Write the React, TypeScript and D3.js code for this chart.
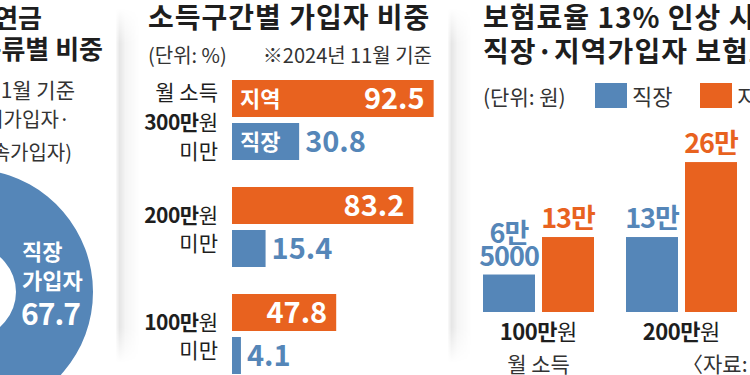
import React, { useEffect, useRef } from "react";
import * as d3 from "d3";

const W = 750;
const H = 375;
const ORANGE = "#e8621f";
const BLUE = "#5586b8";
const INK = "#1e1e1e";
const SUB = "#333";
const FONT = "'Noto Sans CJK KR', 'Noto Sans', sans-serif";

// left: donut (share by subscriber type, %)
const shareLabels = ["직장가입자", "지역·임의·임의계속가입자"];
const shareValues = [67.7, 32.3];

// middle: share by income band (%)
const incomeBands = ["300만원", "200만원", "100만원"];
const regionalShare = [92.5, 83.2, 47.8];
const workplaceShare = [30.8, 15.4, 4.1];

// right: monthly premium after 13% rate (won)
const incomeLevels = ["100만원", "200만원"];
const workplacePremium = [65000, 130000];
const regionalPremium = [130000, 260000];

function formatWon(v) {
  const man = Math.floor(v / 10000);
  const rest = v % 10000;
  return rest > 0 ? [`${man}만`, `${rest}`] : [`${man}만`];
}

// "300만원" -> bold "300만" + normal "원"
function addLabel(g, x, y, str, size, anchor, color = INK) {
  const t = g
    .append("text")
    .attr("x", x)
    .attr("y", y)
    .attr("text-anchor", anchor)
    .attr("font-size", size)
    .attr("fill", color);
  const idx = str.indexOf("만");
  if (idx > 0 && /\d/.test(str[0])) {
    t.append("tspan").attr("font-weight", 700).attr("letter-spacing", -0.5).text(str.slice(0, idx + 1));
    t.append("tspan").attr("font-weight", 400).text(str.slice(idx + 1));
  } else {
    t.attr("font-weight", 400).text(str);
  }
  return t;
}

function title(g, x, y, str, size = 28) {
  return g
    .append("text")
    .attr("x", x)
    .attr("y", y)
    .attr("font-size", size)
    .attr("font-weight", 700)
    .attr("letter-spacing", 1)
    .attr("fill", INK)
    .text(str);
}

export default function App() {
  const svgRef = useRef(null);

  useEffect(() => {
    const svg = d3.select(svgRef.current);
    svg.selectAll("*").remove();
    svg.attr("font-family", FONT);

    svg.append("rect").attr("width", W).attr("height", H).attr("fill", "#fff");

    // card shadows
    const defs = svg.append("defs");
    const sg = defs
      .append("linearGradient")
      .attr("id", "shadow")
      .attr("x1", 0)
      .attr("x2", 1)
      .attr("y1", 0)
      .attr("y2", 0);
    [
      [0, 0.02],
      [0.15, 0.1],
      [0.4, 0.04],
      [1, 0],
    ].forEach(([o, a]) =>
      sg.append("stop").attr("offset", o).attr("stop-color", "#000").attr("stop-opacity", a)
    );
    const fade = defs
      .append("linearGradient")
      .attr("id", "fade")
      .attr("x1", 0)
      .attr("x2", 0)
      .attr("y1", 0)
      .attr("y2", 1);
    [
      [0, 0],
      [0.1, 1],
      [0.9, 1],
      [1, 0],
    ].forEach(([o, a]) =>
      fade.append("stop").attr("offset", o).attr("stop-color", "#fff").attr("stop-opacity", a)
    );
    defs
      .append("mask")
      .attr("id", "fadeMask")
      .attr("maskContentUnits", "objectBoundingBox")
      .append("rect")
      .attr("width", 1)
      .attr("height", 1)
      .attr("fill", "url(#fade)");
    [116, 448].forEach((sx) =>
      svg
        .append("rect")
        .attr("x", sx)
        .attr("y", 8)
        .attr("width", 24)
        .attr("height", 355)
        .attr("fill", "url(#shadow)")
        .attr("mask", "url(#fadeMask)")
    );

    // ---------- left panel ----------
    const left = svg.append("g");
    title(left, 42, 28, "국민연금", 26).attr("text-anchor", "end").attr("letter-spacing", 0);
    title(left, 103, 59, "가입자 종류별 비중", 26).attr("text-anchor", "end").attr("letter-spacing", 0);
    left
      .append("text")
      .attr("x", 75)
      .attr("y", 98)
      .attr("text-anchor", "end")
      .attr("font-size", 21)
      .attr("fill", SUB)
      .text("※2024년 11월 기준");
    left
      .append("text")
      .attr("x", 70)
      .attr("y", 127)
      .attr("text-anchor", "end")
      .attr("font-size", 20)
      .attr("fill", SUB)
      .text("(지역가입자·임의가입자·");
    left
      .append("text")
      .attr("x", 72)
      .attr("y", 160)
      .attr("text-anchor", "end")
      .attr("font-size", 20)
      .attr("fill", SUB)
      .text("임의계속가입자)");

    const a0 = (-32 * Math.PI) / 180;
    const pie = d3
      .pie()
      .sort(null)
      .startAngle(a0)
      .endAngle(a0 + 2 * Math.PI);
    const arc = d3.arc().innerRadius(46).outerRadius(123);
    const donut = left.append("g").attr("transform", "translate(-30,292)");
    donut
      .selectAll("path")
      .data(pie(shareValues))
      .join("path")
      .attr("d", arc)
      .attr("fill", (d, i) => (i === 0 ? BLUE : ORANGE));

    const dl = left.append("g").attr("fill", "#fff").attr("font-weight", 700);
    dl.append("text").attr("x", 22).attr("y", 260).attr("font-size", 22).text("직장");
    dl.append("text").attr("x", 22).attr("y", 289).attr("font-size", 22).text("가입자");
    dl.append("text")
      .attr("x", 21)
      .attr("y", 325)
      .attr("font-size", 30)
      .attr("letter-spacing", -1)
      .text(shareValues[0].toFixed(1));

    // ---------- middle panel ----------
    const mid = svg.append("g");
    title(mid, 148, 28, "소득구간별 가입자 비중");
    mid
      .append("text")
      .attr("x", 148)
      .attr("y", 63)
      .attr("font-size", 20)
      .attr("fill", SUB)
      .text("(단위: %)");
    mid
      .append("text")
      .attr("x", 432)
      .attr("y", 63)
      .attr("text-anchor", "end")
      .attr("font-size", 20)
      .attr("fill", SUB)
      .text("※2024년 11월 기준");

    const y = d3.scaleBand().domain(incomeBands).range([80, 374]).paddingInner(27 / 107);
    const sub = d3
      .scaleBand()
      .domain(["지역", "직장"])
      .range([0, y.bandwidth()])
      .paddingInner(6 / 43);
    const x = d3.scaleLinear().domain([0, 100]).range([232, 450]);

    incomeBands.forEach((band, i) => {
      const top = y(band);
      const yc = top + y.bandwidth() / 2;
      const lines = i === 0 ? ["월 소득", band, "미만"] : [band, "미만"];
      const offs = i === 0 ? [-20, 10, 39] : [-4, 24];
      lines.forEach((ln, j) => addLabel(mid, 218, yc + offs[j], ln, 21, "end"));

      const oy = top + sub("지역");
      const by = top + sub("직장");
      const bh = sub.bandwidth();
      mid
        .append("rect")
        .attr("x", x(0))
        .attr("y", oy)
        .attr("width", x(regionalShare[i]) - x(0))
        .attr("height", bh)
        .attr("fill", ORANGE);
      mid
        .append("rect")
        .attr("x", x(0))
        .attr("y", by)
        .attr("width", x(workplaceShare[i]) - x(0))
        .attr("height", bh)
        .attr("fill", BLUE);

      mid
        .append("text")
        .attr("x", x(regionalShare[i]) - 9)
        .attr("y", oy + bh / 2 + 10)
        .attr("text-anchor", "end")
        .attr("font-size", 29)
        .attr("font-weight", 700)
        .attr("fill", "#fff")
        .text(regionalShare[i].toFixed(1));
      mid
        .append("text")
        .attr("x", x(workplaceShare[i]) + 6)
        .attr("y", by + bh / 2 + 10)
        .attr("font-size", 29)
        .attr("font-weight", 700)
        .attr("fill", BLUE)
        .text(workplaceShare[i].toFixed(1));

      if (i === 0) {
        mid
          .append("text")
          .attr("x", x(0) + 8)
          .attr("y", oy + bh / 2 + 8)
          .attr("font-size", 22)
          .attr("font-weight", 700)
          .attr("fill", "#fff")
          .text("지역");
        mid
          .append("text")
          .attr("x", x(0) + 8)
          .attr("y", by + bh / 2 + 8)
          .attr("font-size", 22)
          .attr("font-weight", 700)
          .attr("fill", "#fff")
          .text("직장");
      }
    });

    // ---------- right panel ----------
    const right = svg.append("g");
    title(right, 483, 28, "보험료율 13% 인상 시 월 보험료");
    title(right, 483, 62, "직장·지역가입자 보험료 비교");
    right
      .append("text")
      .attr("x", 483)
      .attr("y", 105)
      .attr("font-size", 21)
      .attr("fill", SUB)
      .text("(단위: 원)");
    const legend = [
      { name: "직장", color: BLUE, x: 595 },
      { name: "지역", color: ORANGE, x: 700 },
    ];
    legend.forEach((l) => {
      right
        .append("rect")
        .attr("x", l.x)
        .attr("y", 83)
        .attr("width", 32)
        .attr("height", 25)
        .attr("fill", l.color);
      right
        .append("text")
        .attr("x", l.x + 37)
        .attr("y", 105)
        .attr("font-size", 22)
        .attr("fill", SUB)
        .text(l.name);
    });

    const gx = d3.scaleBand().domain(incomeLevels).range([483, 737]).paddingInner(32 / 143);
    const sx = d3
      .scaleBand()
      .domain(["직장", "지역"])
      .range([0, gx.bandwidth()])
      .paddingInner(7 / 59);
    const py = d3.scaleLinear().domain([0, 300000]).range([312, 139]);

    incomeLevels.forEach((lvl, i) => {
      const series = [
        { key: "직장", v: workplacePremium[i], color: BLUE },
        { key: "지역", v: regionalPremium[i], color: ORANGE },
      ];
      series.forEach((s) => {
        const bx = gx(lvl) + sx(s.key);
        right
          .append("rect")
          .attr("x", bx)
          .attr("y", py(s.v))
          .attr("width", sx.bandwidth())
          .attr("height", py(0) - py(s.v))
          .attr("fill", s.color);
        const lines = formatWon(s.v);
        lines.forEach((ln, j) => {
          right
            .append("text")
            .attr("x", bx + sx.bandwidth() / 2)
            .attr("y", py(s.v) - 9 - (lines.length - 1 - j) * 23)
            .attr("text-anchor", "middle")
            .attr("font-size", 27)
            .attr("font-weight", 700)
            .attr("letter-spacing", -1)
            .attr("fill", s.color)
            .text(ln);
        });
      });
      addLabel(right, gx(lvl) + gx.bandwidth() / 2, 340, lvl, 22, "middle");
    });

    right
      .append("text")
      .attr("x", gx(incomeLevels[0]) + gx.bandwidth() / 2)
      .attr("y", 372)
      .attr("text-anchor", "middle")
      .attr("font-size", 21)
      .attr("fill", SUB)
      .text("월 소득");
    right
      .append("text")
      .attr("x", 682)
      .attr("y", 372)
      .attr("font-size", 21)
      .attr("fill", SUB)
      .text("〈자료: 국민연금연구원〉");
  }, []);

  return (
    <svg
      ref={svgRef}
      width={W}
      height={H}
      style={{ position: "absolute", left: 0, top: 0, display: "block" }}
    />
  );
}
